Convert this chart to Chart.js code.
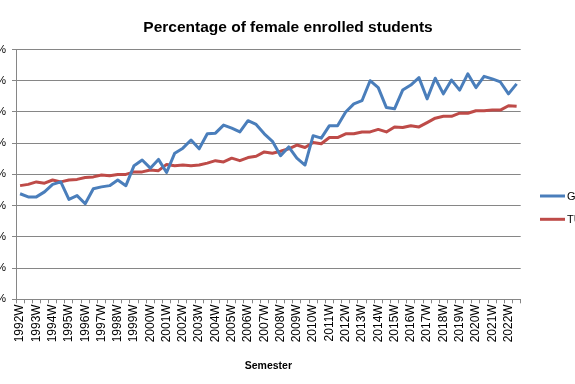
<!DOCTYPE html>
<html>
<head>
<meta charset="utf-8">
<script src="https://cdn.jsdelivr.net/npm/chart.js@4/dist/chart.umd.min.js"></script>
<style>
  html, body { margin: 0; padding: 0; background: #fff; overflow: hidden; }
  /* the original screenshot is cropped: y labels cut on the left, legend cut on the right */
  #wrap { position: absolute; left: -30px; top: 0; width: 640px; height: 384px; }
</style>
</head>
<body>
<div id="wrap"><canvas id="femaleChart" width="640" height="384"></canvas></div>
<script>
// ============================================================
// DATA
// ============================================================
const chartTitle = 'Percentage of female enrolled students';
const axisTitle = 'Semester';
const seriesNames = ['Gesamt', 'TU Wien'];

const semesters = [
    '1992W', '1993S', '1993W', '1994S', '1994W', '1995S', '1995W', '1996S',
    '1996W', '1997S', '1997W', '1998S', '1998W', '1999S', '1999W', '2000S',
    '2000W', '2001S', '2001W', '2002S', '2002W', '2003S', '2003W', '2004S',
    '2004W', '2005S', '2005W', '2006S', '2006W', '2007S', '2007W', '2008S',
    '2008W', '2009S', '2009W', '2010S', '2010W', '2011S', '2011W', '2012S',
    '2012W', '2013S', '2013W', '2014S', '2014W', '2015S', '2015W', '2016S',
    '2016W', '2017S', '2017W', '2018S', '2018W', '2019S', '2019W', '2020S',
    '2020W', '2021S', '2021W', '2022S', '2022W', '2023S'
];

const shareG = [
    16.9, 16.4, 16.4, 17.2, 18.4, 18.8, 16.0, 16.6, 15.3, 17.7,
    18.0, 18.2, 19.1, 18.2, 21.4, 22.3, 21.0, 22.4, 20.3, 23.4,
    24.2, 25.5, 24.1, 26.5, 26.6, 27.9, 27.4, 26.8, 28.6, 28.0,
    26.5, 25.3, 23.0, 24.4, 22.6, 21.5, 26.2, 25.8, 27.8, 27.8,
    30.0, 31.3, 31.8, 35.0, 33.9, 30.7, 30.5, 33.5, 34.3, 35.5,
    32.1, 35.4, 32.9, 35.1, 33.5, 36.1, 33.9, 35.7, 35.3, 34.8,
    32.9, 34.5
];

const shareTU = [
    18.2, 18.4, 18.8, 18.6, 19.1, 18.8, 19.1, 19.2, 19.5, 19.6,
    19.9, 19.8, 20.0, 20.0, 20.4, 20.4, 20.7, 20.6, 21.6, 21.4,
    21.5, 21.4, 21.5, 21.8, 22.2, 22.0, 22.6, 22.2, 22.7, 22.9,
    23.6, 23.4, 23.7, 24.1, 24.7, 24.3, 25.1, 24.9, 25.9, 25.9,
    26.5, 26.5, 26.8, 26.8, 27.2, 26.8, 27.6, 27.5, 27.8, 27.6,
    28.3, 29.0, 29.3, 29.3, 29.8, 29.8, 30.2, 30.2, 30.3, 30.3,
    31.0, 30.9
];

const yMin = 0;
const yMax = 40;
const yStep = 5;

// ============================================================
// CHART
// ============================================================
const FONT = '"Liberation Sans", Arial, sans-serif';
const GRID = '#868686';

// title + legend drawn like the Excel original (title centred over whole chart incl. legend)
const excelDecor = {
    id: 'excelDecor',
    afterDraw(chart) {
        const ctx = chart.ctx;
        ctx.save();
        ctx.fillStyle = '#000';
        ctx.font = 'bold 15.5px ' + FONT;
        ctx.textAlign = 'center';
        ctx.textBaseline = 'alphabetic';
        ctx.fillText(chartTitle, 318, 31.5);

        ctx.font = '11px ' + FONT;
        ctx.textAlign = 'left';
        ctx.textBaseline = 'middle';
        chart.data.datasets.forEach((ds, i) => {
            const y = 196 + i * 23.3;
            ctx.strokeStyle = ds.borderColor;
            ctx.lineWidth = 3;
            ctx.beginPath();
            ctx.moveTo(570, y);
            ctx.lineTo(595, y);
            ctx.stroke();
            ctx.fillText(ds.label, 597, y + 0.5);
        });
        ctx.restore();
    }
};

new Chart(document.getElementById('femaleChart'), {
    type: 'line',
    data: {
        labels: semesters,
        datasets: [{
            label: seriesNames[0],
            data: shareG,
            borderColor: '#4A7EBB',
            backgroundColor: '#4A7EBB',
            borderWidth: 3,
            pointRadius: 0,
            tension: 0,
            borderJoinStyle: 'round',
            fill: false
        }, {
            label: seriesNames[1],
            data: shareTU,
            borderColor: '#BE4B48',
            backgroundColor: '#BE4B48',
            borderWidth: 3,
            pointRadius: 0,
            tension: 0,
            borderJoinStyle: 'round',
            fill: false
        }]
    },
    options: {
        responsive: false,
        animation: false,
        layout: { padding: { top: 49.5, right: 89.3, bottom: 0, left: 0 } },
        plugins: {
            legend: { display: false },
            title: { display: false },
            tooltip: { enabled: false }
        },
        scales: {
            x: {
                offset: true,
                grid: { display: true, drawOnChartArea: false, drawTicks: true, tickLength: 4, offset: true, color: GRID },
                border: { display: true, color: GRID, width: 1 },
                ticks: {
                    autoSkip: false,
                    minRotation: 90,
                    maxRotation: 90,
                    padding: 1,
                    color: '#000',
                    font: { family: FONT, size: 12 },
                    callback: (v, i) => i % 2 === 0 ? semesters[i] : ''
                },
                title: {
                    display: true,
                    text: axisTitle,
                    color: '#000',
                    font: { family: FONT, size: 10.5, weight: 'bold' },
                    padding: { top: 0, bottom: 11.4 }
                },
                afterFit: s => { s.height = 84.7; }
            },
            y: {
                min: yMin,
                max: yMax,
                grid: { color: GRID, tickLength: 4 },
                border: { color: GRID },
                ticks: {
                    stepSize: yStep,
                    padding: 6,
                    color: '#000',
                    font: { family: FONT, size: 11 },
                    callback: v => v + '%'
                },
                afterFit: s => { s.width = 46; }
            }
        }
    },
    plugins: [excelDecor]
});
</script>
</body>
</html>
